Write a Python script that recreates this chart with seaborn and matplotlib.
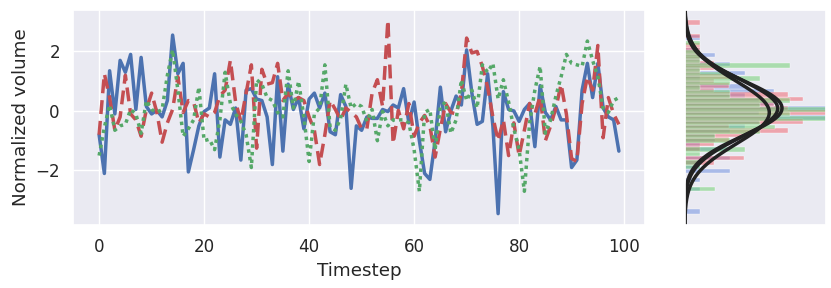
import numpy as np
import pandas as pd
import matplotlib
matplotlib.use("Agg")
import matplotlib.pyplot as plt
import seaborn as sns

# values, one per timestep (0..99)
blue_vals = [-0.8, -2.1, 1.35, -0.1, 1.7, 1.3, 1.9, 0.05, 1.8, 0.15,
             -0.1, 0.02, -0.2, 0.35, 2.55, 1.25, 1.6, -2.05, -1.3, -0.5,
             -0.02, 0.1, 1.25, -1.55, -0.3, -0.45, 0.1, -1.65, 0.7, 0.75,
             0.4, 0.35, -0.2, -1.8, 1.15, -1.35, 0.9, 0.05, 0.45, -0.6,
             0.4, 0.6, 0.1, 0.6, -0.7, -0.8, 0.55, 0.15, -2.6, -0.5,
             -0.65, -0.2, -0.25, -0.25, 0.05, -0.02, 0.2, 0.1, 0.75, -0.4,
             0.3, -1.0, -2.1, -2.3, -1.0, 0.8, -0.7, 0.0, 0.5, 0.2,
             2.05, 0.6, -0.45, -0.35, 1.25, -0.5, -3.45, 0.65, 0.05, 0.0,
             -0.35, 0.05, 0.25, -1.2, 0.85, -0.05, -0.3, 0.15, -0.3, -0.3,
             -1.9, -1.65, 0.7, 1.6, 0.45, 1.6, 0.1, -0.2, -0.3, -1.35]
red_vals = [-0.8, 1.25, 0.45, -0.65, -0.2, 1.2, -0.1, -0.3, -0.85, 0.05,
            0.6, -0.05, -1.05, -0.4, 0.05, 1.15, -0.05, 0.35, 0.3, -0.4,
            -0.1, -0.2, -0.05, 0.5, 0.7, 1.7, 0.3, -0.35, 0.6, 1.55,
            -1.25, 1.4, 0.9, 0.95, 1.6, 0.35, 0.6, 0.35, 0.45, 0.35,
            -0.2, -0.65, -1.8, -0.8, 0.35, 0.05, -0.3, 0.1, -0.05, -0.2,
            -0.6, -0.6, 0.6, 1.05, 0.15, 3.05, -1.1, 0.02, -0.6, 0.25,
            -0.85, -0.4, -0.15, -0.5, -1.55, -0.6, 0.25, -0.05, -0.1, 0.6,
            2.45, 1.95, 2.0, 1.5, 0.8, -0.2, -1.0, -0.3, -1.5, -0.4,
            -1.5, -0.65, 0.25, -0.1, 0.5, -1.0, -0.5, 0.1, 0.9, -0.1,
            -1.6, -1.7, 0.25, 1.15, 0.7, 2.2, -0.9, 0.45, -0.1, -0.45]
green_vals = [-1.5, -0.55, 0.2, -0.65, -0.5, -0.45, 0.05, -0.1, -0.75, 0.35,
              0.05, -0.05, 0.05, 1.2, 2.05, 0.7, -0.85, -0.6, -0.3, 0.8,
              -1.0, -0.95, -1.3, -0.3, 1.3, 0.25, -0.1, -0.35, -0.8, -1.9,
              1.05, 0.9, 0.45, 0.35, -0.05, -0.2, 1.35, 0.1, 1.0, -0.2,
              -1.7, -0.1, 0.1, 1.55, -0.55, -0.65, -0.25, 0.9, 0.1, 0.25,
              0.15, -0.35, 0.05, -1.0, -0.02, -0.5, -0.3, -0.3, -0.3, -0.4,
              -1.3, -2.7, -0.05, 0.05, -1.3, 0.15, 0.3, -0.75, -0.3, 1.05,
              0.35, 0.7, 0.1, 1.55, 1.3, 1.6, 0.4, 1.05, 0.3, -0.6,
              -1.3, -2.7, -0.4, 0.7, 1.5, -0.75, -0.3, 0.5, 1.15, 1.9,
              1.6, 1.55, 1.5, 2.35, 1.7, 1.15, 0.1, -0.05, 0.35, 0.45]
timesteps = list(range(100))

series = {"blue": blue_vals, "red": red_vals, "green": green_vals}
colors = {"blue": "#4C72B0", "red": "#C44E52", "green": "#55A868"}
hist_colors = {"blue": "#6A8CE0", "red": "#F0606A", "green": "#6CCF6C"}
styles = {"blue": "-", "red": (0, (4, 2)), "green": (0, (1, 1.2))}

df = pd.DataFrame(series)
df["Timestep"] = timesteps

sns.set_theme(style="darkgrid", context="notebook", font_scale=1.1)

fig = plt.figure(figsize=(8.31, 2.88), dpi=100)
ax = fig.add_axes([0.088, 0.219, 0.688, 0.746])
ax_m = fig.add_axes([0.824, 0.219, 0.170, 0.746], sharey=ax)

for name in ["blue", "red", "green"]:
    sns.lineplot(data=df, x="Timestep", y=name, ax=ax, color=colors[name],
                 linestyle=styles[name], linewidth=2.5)
ax.set_xlabel("Timestep")
ax.set_ylabel("Normalized volume")
ax.set_xticks([0, 20, 40, 60, 80, 100])
ax.set_yticks([-2, 0, 2])

# marginal: horizontal histograms + fitted normal curves
y_grid = np.linspace(-3.83, 3.39, 300)
for name in ["blue", "red", "green"]:
    sns.histplot(y=df[name], ax=ax_m, stat="density", binwidth=0.15,
                 color=hist_colors[name], alpha=0.5, edgecolor="white",
                 linewidth=0.25)
for name in ["blue", "red", "green"]:
    mu, sd = df[name].mean(), df[name].std()
    pdf = np.exp(-0.5 * ((y_grid - mu) / sd) ** 2) / (sd * np.sqrt(2 * np.pi))
    ax_m.plot(pdf, y_grid, color="#222222", linewidth=2.5)
ax_m.set_xlim(0, 0.63)
ax_m.set_ylim(-3.83, 3.39)
ax_m.grid(False)
ax_m.set_xticks([])
ax_m.set_xlabel("")
ax_m.set_ylabel("")
ax_m.tick_params(labelleft=False)

fig.savefig("out.png", dpi=100)
